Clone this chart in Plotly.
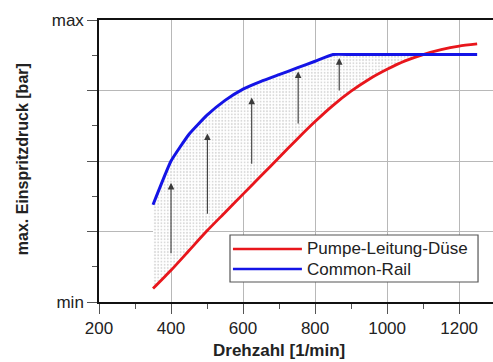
import numpy as np
import plotly.graph_objects as go

# Data (y in relative units: 0 = min, 4 = max)
drehzahl = [350, 400, 450, 500, 550, 600, 650, 700, 750, 800, 850, 900, 950,
            1000, 1050, 1100, 1150, 1200, 1250]
pld = [0.19, 0.45, 0.73, 1.01, 1.27, 1.53, 1.79, 2.05, 2.31, 2.56, 2.79, 2.99, 3.16,
       3.30, 3.42, 3.51, 3.58, 3.63, 3.66]
cr = [1.38, 2.00, 2.38, 2.65, 2.86, 3.02, 3.13, 3.225, 3.32, 3.415, 3.51, 3.51, 3.51,
      3.51, 3.51, 3.51, 3.51, 3.51, 3.51]

arrow_x = [400, 501, 624, 753, 867]
arrow_y0 = [0.67, 1.23, 1.94, 2.51, 2.98]
arrow_y1 = [1.69, 2.39, 2.90, 3.27, 3.46]

y_tickvals = [0, 1, 2, 3, 4]
y_ticktext = ["min", "", "", "", "max"]
x_tickvals = [200, 400, 600, 800, 1000, 1200]
series_names = ["Pumpe-Leitung-Düse", "Common-Rail"]
series_colors = ["#e8161c", "#1414e6"]

lower = np.minimum(np.array(pld), np.array(cr))

fig = go.Figure()
fig.add_trace(go.Scatter(x=drehzahl, y=lower, mode="lines",
                         line=dict(width=0, shape="spline", smoothing=0.6),
                         showlegend=False, hoverinfo="skip"))
fig.add_trace(go.Scatter(x=drehzahl, y=cr, mode="lines",
                         line=dict(width=0, shape="spline", smoothing=0.4),
                         fill="tonexty", fillcolor="rgba(0,0,0,0)",
                         fillpattern=dict(shape=".", fgcolor="#b4b4b4", bgcolor="white",
                                          size=3.2, solidity=0.28),
                         showlegend=False, hoverinfo="skip"))
fig.add_trace(go.Scatter(x=drehzahl, y=pld, mode="lines", name=series_names[0],
                         line=dict(color=series_colors[0], width=2.8, shape="spline",
                                   smoothing=0.6),
                         showlegend=False))
fig.add_trace(go.Scatter(x=drehzahl, y=cr, mode="lines", name=series_names[1],
                         line=dict(color=series_colors[1], width=3, shape="spline",
                                   smoothing=0.4),
                         showlegend=False))

for xa, ya0, ya1 in zip(arrow_x, arrow_y0, arrow_y1):
    fig.add_annotation(x=xa, y=ya1, ax=xa, ay=ya0, xref="x", yref="y",
                       axref="x", ayref="y", text="", showarrow=True,
                       arrowhead=2, arrowsize=1.2, arrowwidth=1.1, arrowcolor="#3a3a3a")

# Legend box (drawn in paper coordinates)
lx0, lx1, ly0, ly1 = 0.3325, 0.962, 0.071, 0.2376
fig.add_shape(type="rect", xref="paper", yref="paper", x0=lx0, x1=lx1, y0=ly0, y1=ly1,
              line=dict(color="#555555", width=1.2), fillcolor="white", layer="above")
for i, (nm, col) in enumerate(zip(series_names, series_colors)):
    yy = 0.188 - i * 0.071
    fig.add_shape(type="line", xref="paper", yref="paper", x0=0.340, x1=0.515,
                  y0=yy, y1=yy, line=dict(color=col, width=2.5), layer="above")
    fig.add_annotation(xref="paper", yref="paper", x=0.524, y=yy, text=nm,
                       showarrow=False, xanchor="left", yanchor="middle",
                       font=dict(size=17, color="#222222"))

# Axis titles
fig.add_annotation(xref="paper", yref="paper", x=0.457, y=-0.172,
                   text="<b>Drehzahl [1/min]</b>", showarrow=False,
                   xanchor="center", yanchor="middle", font=dict(size=17, color="#222222"))
fig.add_annotation(xref="paper", yref="paper", x=-0.195, y=0.507,
                   text="<b>max. Einspritzdruck [bar]</b>", showarrow=False, textangle=-90,
                   xanchor="center", yanchor="middle", font=dict(size=16, color="#222222"))

fig.update_layout(
    width=493, height=362,
    margin=dict(l=99, r=0, t=20, b=60),
    plot_bgcolor="white", paper_bgcolor="white",
    font=dict(family="Arial, Liberation Sans, sans-serif", color="#222222", size=17),
    showlegend=False,
    xaxis=dict(range=[200, 1294], tickvals=x_tickvals, showgrid=True,
               gridcolor="#b8b8b8", gridwidth=1, zeroline=False,
               showline=True, linecolor="#111111", linewidth=2, mirror=True,
               ticks="outside", ticklen=10, tickcolor="#555555", tickwidth=1,
               minor=dict(dtick=100, ticks="outside", ticklen=5, tickcolor="#555555",
                          showgrid=False),
               tickfont=dict(size=17)),
    yaxis=dict(range=[0, 4], tickvals=y_tickvals, ticktext=y_ticktext, showgrid=True,
               gridcolor="#b8b8b8", gridwidth=1, zeroline=False,
               showline=True, linecolor="#111111", linewidth=1.5,
               ticks="outside", ticklen=10, tickcolor="#555555", tickwidth=1,
               minor=dict(tickvals=[0.5, 1.5, 2.5, 3.5], ticks="outside", ticklen=5,
                          tickcolor="#555555", showgrid=False),
               tickfont=dict(size=17)),
)

fig.write_html("out.html")
